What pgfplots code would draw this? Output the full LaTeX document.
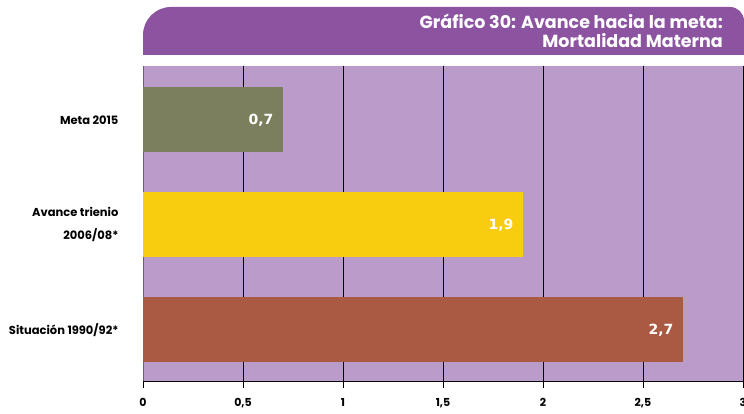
\documentclass[border=0pt]{standalone}
\usepackage{fontspec}
\usepackage{pgfplots}
\pgfplotsset{compat=1.18}
\setmainfont{Poppins}
\newfontfamily\dejavu{DejaVu Sans}
\definecolor{bg}{HTML}{BB9BC9}
\definecolor{banner}{HTML}{8C53A0}
\definecolor{olive}{HTML}{7B7F5E}
\definecolor{yel}{HTML}{F9CD0F}
\definecolor{brown}{HTML}{AA5A42}
\begin{document}
\begin{tikzpicture}
\path[use as bounding box] (0,0) rectangle (744pt,414pt);
\fill[banner] (143pt,359pt) -- (143pt,379pt) arc[start angle=180,end angle=90,radius=28pt] -- (730pt,407pt) arc[start angle=90,end angle=0,radius=14pt] -- (744pt,359pt) -- cycle;
\node[anchor=base east,text=white,font=\fontsize{17.5}{20}\selectfont\bfseries,inner sep=0pt] at (723pt,385pt) {Gráfico 30: Avance hacia la meta:};
\node[anchor=base east,text=white,font=\fontsize{17.5}{20}\selectfont\bfseries,inner sep=0pt] at (723pt,366pt) {Mortalidad Materna};
\begin{axis}[
  at={(143pt,33pt)}, anchor=south west,
  scale only axis, width=600pt, height=315pt,
  xbar, bar width=65pt,
  xmin=0, xmax=3, ymin=-0.486, ymax=2.514,
  xtick={0,0.5,...,3},
  /pgf/number format/use comma,
  /pgf/number format/assume math mode=true,
  ytick={0,1,2},
  yticklabels={Situación 1990/92*,{Avance trienio\\[10pt]2006/08*},Meta 2015},
  yticklabel style={align=right,font=\fontsize{11.5}{13}\selectfont\bfseries, xshift=-14pt},
  xticklabel style={font=\fontsize{11}{13}\selectfont\bfseries, yshift=-7pt},
  ytick style={draw=none},
  tick align=outside,
  major tick length=7pt,
  xtick style={black, line width=0.8pt},
  axis x line*=bottom, axis y line*=left,
  x axis line style={black,line width=0.8pt,-},
  y axis line style={black!60,line width=0.8pt,-},
  xmajorgrids, grid style={black, line width=0.8pt},
  axis background/.style={fill=bg},
  point meta=explicit symbolic,
  nodes near coords,
  every node near coord/.append style={anchor=east, xshift=-6pt, text=white, font=\dejavu\fontsize{14}{16}\selectfont\bfseries},
]
\addplot[draw=none, fill=brown, bar shift=0pt] coordinates {(2.7,0) [2,7]};
\addplot[draw=none, fill=yel, bar shift=0pt] coordinates {(1.9,1) [1,9]};
\addplot[draw=none, fill=olive, bar shift=0pt] coordinates {(0.7,2) [0,7]};
\end{axis}
\end{tikzpicture}
\end{document}
